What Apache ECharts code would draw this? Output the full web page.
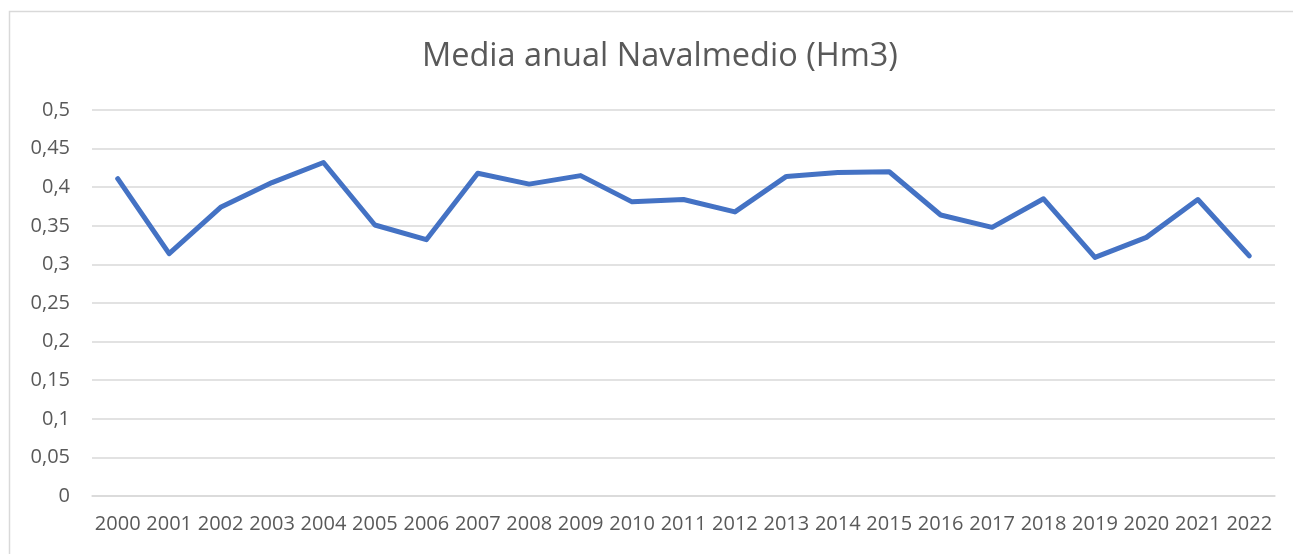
<!DOCTYPE html>
<html>
<head>
<meta charset="utf-8">
<script src="https://cdn.jsdelivr.net/npm/echarts@6/dist/echarts.min.js"></script>
<style>
  html, body { margin: 0; padding: 0; background: #fff; }
  #chart { width: 1293px; height: 554px; }
</style>
</head>
<body>
<div id="chart"></div>
<script>
// Annual mean, Navalmedio reservoir (Hm3)
const years = ['2000','2001','2002','2003','2004','2005','2006','2007','2008','2009','2010','2011',
               '2012','2013','2014','2015','2016','2017','2018','2019','2020','2021','2022'];
const annualMean = [0.411, 0.314, 0.374, 0.406, 0.432, 0.351, 0.332, 0.418, 0.404, 0.415, 0.381, 0.384,
                    0.368, 0.414, 0.419, 0.420, 0.364, 0.348, 0.385, 0.309, 0.335, 0.384, 0.311];
const titleText = 'Media anual Navalmedio (Hm3)';

const textColor = '#595959';
const gridColor = '#d9d9d9';
const font = '"Open Sans", sans-serif';

const chart = echarts.init(document.getElementById('chart'), null, { renderer: 'canvas' });
chart.setOption({
  animation: false,
  backgroundColor: '#ffffff',
  title: {
    text: titleText,
    left: 417,
    top: 35,
    textStyle: { color: textColor, fontFamily: font, fontSize: 32.5, fontWeight: 'normal' }
  },
  graphic: [{
    type: 'rect',
    shape: { x: 9.5, y: 11.5, width: 1400, height: 700 },
    style: { fill: 'none', stroke: gridColor, lineWidth: 1.5 },
    silent: true
  }],
  grid: { left: 92, right: 18, top: 110, bottom: 58, containLabel: false },
  xAxis: {
    type: 'category',
    data: years,
    boundaryGap: true,
    axisLine: { show: true, lineStyle: { color: gridColor, width: 1.5 } },
    axisTick: { show: false },
    axisLabel: { color: textColor, fontFamily: font, fontSize: 20, margin: 18, interval: 0 }
  },
  yAxis: {
    type: 'value',
    min: 0,
    max: 0.5,
    interval: 0.05,
    axisLine: { show: false },
    axisTick: { show: false },
    splitLine: { lineStyle: { color: gridColor, width: 1.5 } },
    axisLabel: {
      color: textColor, fontFamily: font, fontSize: 20, margin: 22,
      formatter: v => String(Math.round(v * 100) / 100).replace('.', ',')
    }
  },
  series: [{
    type: 'line',
    data: annualMean,
    symbol: 'none',
    lineStyle: { color: '#4472C4', width: 5, cap: 'round', join: 'round' },
    itemStyle: { color: '#4472C4' }
  }]
});
</script>
</body>
</html>
